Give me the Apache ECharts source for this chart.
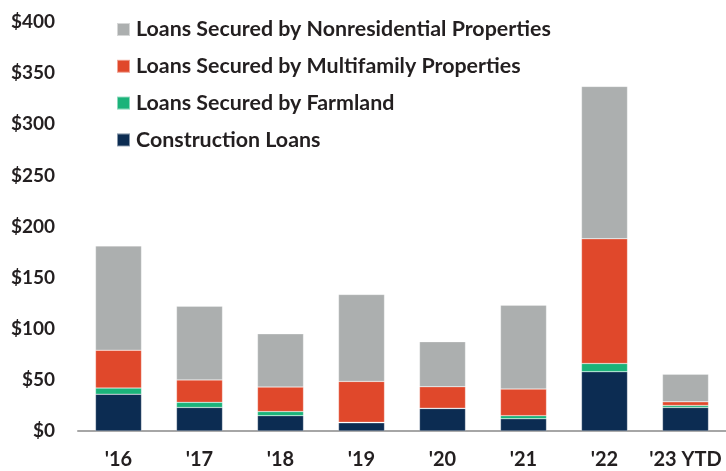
<!DOCTYPE html>
<html>
<head>
<meta charset="utf-8">
<script src="https://cdn.jsdelivr.net/npm/echarts@6/dist/echarts.min.js"></script>
<style>
  html, body { margin: 0; padding: 0; background: #fff; }
  #chart { width: 726px; height: 471px; }
</style>
</head>
<body>
<div id="chart"></div>
<script>
// values in $ billions
var years = ["'16", "'17", "'18", "'19", "'20", "'21", "'22", "'23 YTD"]
var construction = [36, 23, 15, 8, 22, 12, 58, 23]
var farmland = [6, 5, 4, 0.5, 0.3, 3, 8, 2]
var multifamily = [37, 22, 24, 40, 21, 26, 122, 3.5]
var nonresidential = [102, 72, 52, 85, 44, 82, 149, 27]
var yTicks = [0, 50, 100, 150, 200, 250, 300, 350, 400]

var font = 'Lato, "Open Sans", sans-serif'
var textColor = '#231f20'

function barSeries (name, data, color) {
  return {
    name: name,
    type: 'bar',
    stack: 'total',
    data: data,
    barWidth: 46,
    itemStyle: { color: color, borderColor: 'rgba(255,255,255,0.5)', borderWidth: 0.5 }
  }
}

var myChart = echarts.init(document.getElementById('chart'))
myChart.setOption({
  animation: false,
  textStyle: { fontFamily: font },
  grid: { left: 78, right: -5, top: 22, bottom: 40 },
  legend: {
    orient: 'vertical',
    left: 116,
    top: 19,
    padding: 0,
    itemGap: 15.8,
    itemWidth: 13,
    itemHeight: 13,
    icon: 'rect',
    textStyle: { fontFamily: font, fontSize: 21.4, fontWeight: 'bold', color: textColor, padding: [0, 0, 0, 1] },
    data: ['Loans Secured by Nonresidential Properties', 'Loans Secured by Multifamily Properties',
      'Loans Secured by Farmland', 'Construction Loans']
  },
  xAxis: {
    type: 'category',
    data: years,
    axisLine: { lineStyle: { color: '#a6a6a6', width: 2 } },
    axisTick: { show: false },
    axisLabel: { interval: 0, fontSize: 20, fontWeight: 'bold', color: textColor, margin: 19 }
  },
  yAxis: {
    type: 'value',
    min: yTicks[0],
    max: yTicks[yTicks.length - 1],
    interval: 50,
    splitLine: { show: false },
    axisLabel: {
      fontSize: 19,
      fontWeight: 'bold',
      color: textColor,
      margin: 23,
      formatter: function (v) { return '$' + v }
    }
  },
  series: [
    barSeries('Construction Loans', construction, '#0c2c52'),
    barSeries('Loans Secured by Farmland', farmland, '#1bb37a'),
    barSeries('Loans Secured by Multifamily Properties', multifamily, '#e0482b'),
    barSeries('Loans Secured by Nonresidential Properties', nonresidential, '#acafaf')
  ]
})
</script>
</body>
</html>
